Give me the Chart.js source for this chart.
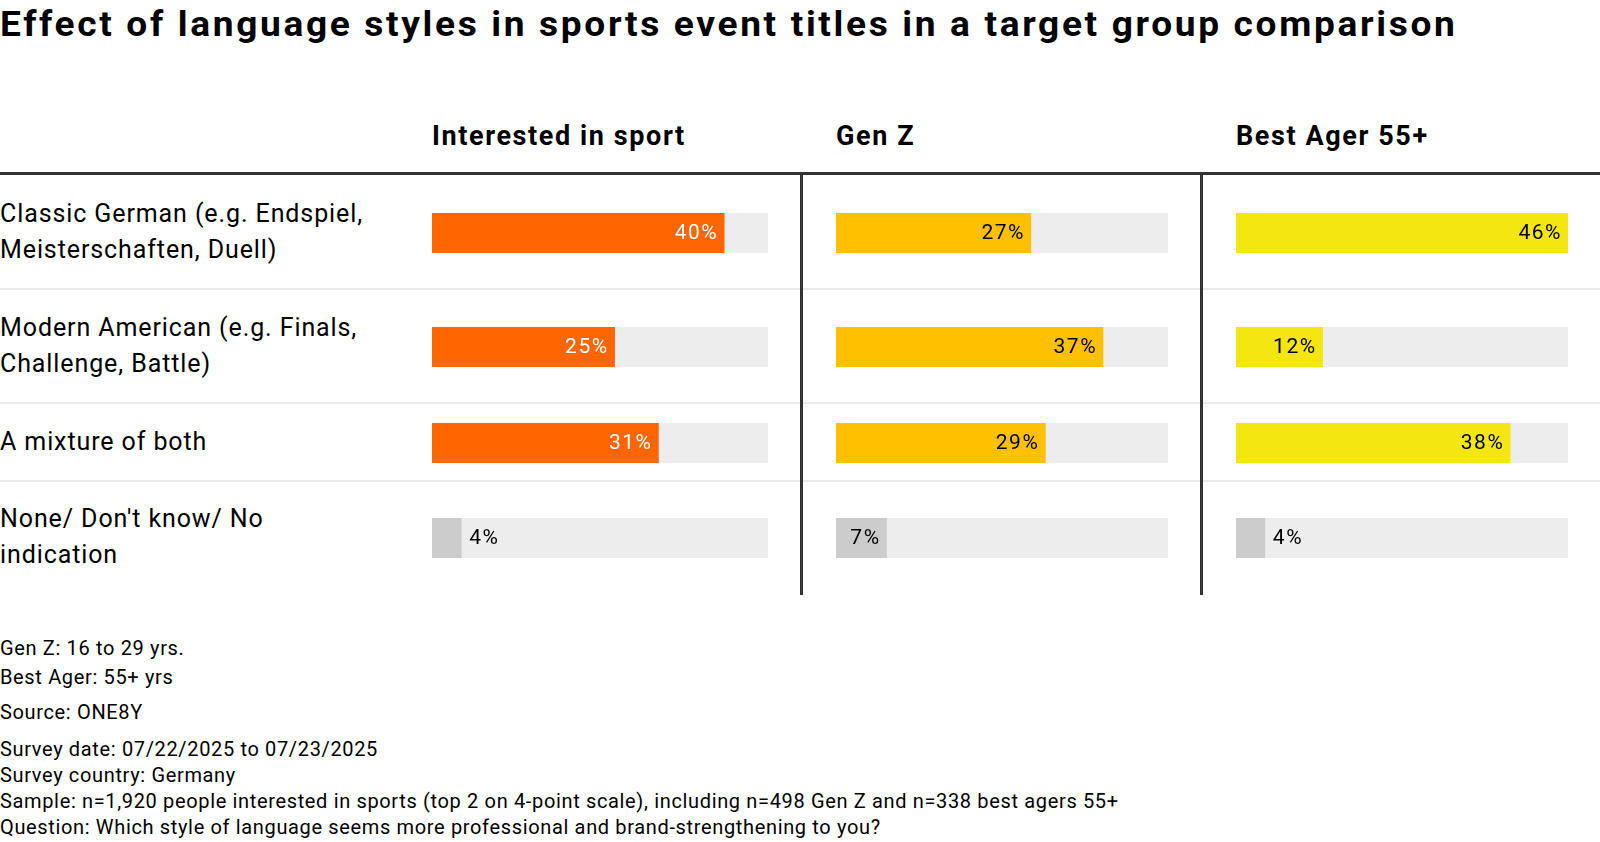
<!DOCTYPE html>
<html>
<head>
<meta charset="utf-8">
<script src="https://cdn.jsdelivr.net/npm/chart.js@4.4.1/dist/chart.umd.min.js"></script>
<style>
  body { margin: 0; background: #fff; font-family: Roboto, sans-serif; color: #000; }
  #page { position: relative; width: 1600px; height: 842px; overflow: hidden; }
  h1 { position: absolute; left: 0; top: 5px; margin: 0; font-size: 35px; line-height: 40px; font-weight: 700; letter-spacing: 2.5px; white-space: nowrap; transform: scaleX(1.06); transform-origin: left top; }
  .head { position: absolute; top: 120px; font-size: 27px; line-height: 32px; font-weight: 700; letter-spacing: 1.6px; white-space: nowrap; }
  .rule { position: absolute; left: 0; width: 1600px; }
  .divider { position: absolute; width: 3px; background: #333; }
  .label { position: absolute; left: 0; width: 420px; display: flex; align-items: center; font-size: 25px; line-height: 36px; letter-spacing: 0.9px; }
  .cell { position: absolute; height: 40px; }
  .notes { position: absolute; left: 0; font-size: 20px; letter-spacing: 0.65px; white-space: nowrap; }
</style>
</head>
<body>
<div id="page">
  <h1>Effect of language styles in sports event titles in a target group comparison</h1>
  <div class="notes" style="top:634px; line-height:28.5px">Gen Z: 16 to 29 yrs.<br>Best Ager: 55+ yrs</div>
  <div class="notes" style="top:702px; line-height:20px">Source: ONE8Y</div>
  <div class="notes" style="top:736px; line-height:26px">Survey date: 07/22/2025 to 07/23/2025<br>Survey country: Germany<br>Sample: n=1,920 people interested in sports (top 2 on 4-point scale), including n=498 Gen Z and n=338 best agers 55+<br>Question: Which style of language seems more professional and brand-strengthening to you?</div>
</div>
<script>
// DATA

const categories = [
  ['Classic German (e.g. Endspiel,', 'Meisterschaften, Duell)'],
  ['Modern American (e.g. Finals,', 'Challenge, Battle)'],
  ['A mixture of both'],
  ['None/ Don\'t know/ No', 'indication'],
];

const groups = [
  'Interested in sport',
  'Gen Z',
  'Best Ager 55+',
];

const interestedValues = [40, 25, 31, 4];
const genZValues = [27, 37, 29, 7];
const bestAgerValues = [46, 12, 38, 4];

const groupValues = [
  interestedValues,
  genZValues,
  bestAgerValues,
];

const groupColors = ['#ff6600', '#ffc000', '#f4e611'];
const labelColors = ['#ffffff', '#000000', '#000000'];
const noneColor = '#cccccc';
const trackColor = '#ededed';

// LAYOUT

const tableTop = 175;
const rowHeights = [115, 114, 78, 111];
const trackLeft = [432, 836, 1236];
const trackWidth = [336, 332, 332];
const dividerX = [800, 1200];

const page =
  document.getElementById('page');

const maxValue =
  Math.max(...groupValues.flat());

// value labels drawn at the end of each bar
const valueLabels = {
  id: 'valueLabels',
  afterDatasetsDraw(chart, args, opts) {
    const bar =
      chart.getDatasetMeta(0).data[0];
    const value =
      chart.data.datasets[0].data[0];
    const text = value + '%';
    const ctx = chart.ctx;

    ctx.save();
    ctx.font = '21px Roboto';
    ctx.letterSpacing = '1.5px';
    ctx.textBaseline = 'middle';

    const width =
      ctx.measureText(text).width;

    if (width + 16 < bar.x - bar.base) {
      ctx.textAlign = 'right';
      ctx.fillStyle = opts.color;
      ctx.fillText(text, bar.x - 6, bar.y + 1);
    } else {
      ctx.textAlign = 'left';
      ctx.fillStyle = '#000000';
      ctx.fillText(text, bar.x + 8, bar.y + 1);
    }
    ctx.restore();
  },
};

// column headers
groups.forEach((name, g) => {
  const head = document.createElement('div');
  head.className = 'head';
  head.style.left = trackLeft[g] + 'px';
  head.textContent = name;
  page.appendChild(head);
});

// header rule
const topRule = document.createElement('div');
topRule.className = 'rule';
topRule.style.top = (tableTop - 3) + 'px';
topRule.style.height = '3px';
topRule.style.background = '#333';
page.appendChild(topRule);

let rowTop = tableTop;

categories.forEach((lines, r) => {
  const h = rowHeights[r];

  const label = document.createElement('div');
  label.className = 'label';
  label.style.top = (rowTop - 1) + 'px';
  label.style.height = h + 'px';
  label.innerHTML = '<div>' + lines.join('<br>') + '</div>';
  page.appendChild(label);

  if (r < categories.length - 1) {
    const sep = document.createElement('div');
    sep.className = 'rule';
    sep.style.top = (rowTop + h - 2) + 'px';
    sep.style.height = '2px';
    sep.style.background = '#ebebeb';
    page.appendChild(sep);
  }

  const isNone = r === categories.length - 1;

  groups.forEach((name, g) => {
    const value = groupValues[g][r];

    const cell = document.createElement('div');
    cell.className = 'cell';
    cell.style.left = trackLeft[g] + 'px';
    cell.style.width = trackWidth[g] + 'px';
    cell.style.top = (rowTop + Math.round(h / 2) - 20) + 'px';
    const canvas = document.createElement('canvas');
    cell.appendChild(canvas);
    page.appendChild(cell);

    new Chart(canvas, {
      type: 'bar',
      data: {
        labels: [lines.join(' ')],
        datasets: [
          {
            label: name,
            data: [value],
            backgroundColor: isNone ? noneColor : groupColors[g],
            barPercentage: 1,
            categoryPercentage: 1,
          },
          {
            label: 'rest',
            data: [maxValue - value],
            backgroundColor: trackColor,
            barPercentage: 1,
            categoryPercentage: 1,
          },
        ],
      },
      options: {
        indexAxis: 'y',
        responsive: true,
        maintainAspectRatio: false,
        animation: false,
        events: [],
        layout: { padding: 0 },
        scales: {
          x: { display: false, stacked: true, min: 0, max: maxValue },
          y: { display: false, stacked: true },
        },
        plugins: {
          legend: { display: false },
          tooltip: { enabled: false },
          valueLabels: { color: isNone ? '#000000' : labelColors[g] },
        },
      },
      plugins: [valueLabels],
    });
  });

  rowTop += h;
});

// column dividers
dividerX.forEach(x => {
  const line = document.createElement('div');
  line.className = 'divider';
  line.style.left = x + 'px';
  line.style.top = tableTop + 'px';
  line.style.height = (rowTop - tableTop + 2) + 'px';
  page.appendChild(line);
});
</script>
</body>
</html>
